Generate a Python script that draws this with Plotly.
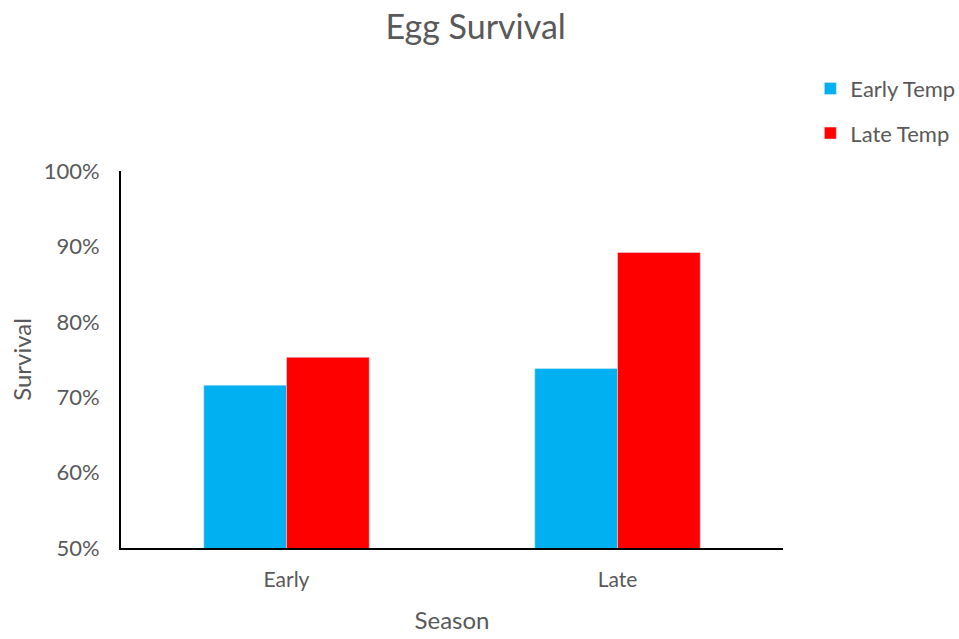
import plotly.graph_objects as go

seasons = ["Early", "Late"]
early_temp = [0.716, 0.738]
late_temp = [0.753, 0.892]
y_ticks = [0.5, 0.6, 0.7, 0.8, 0.9, 1.0]
y_tick_labels = ["50%", "60%", "70%", "80%", "90%", "100%"]

FONT = "Lato, Open Sans, sans-serif"
GRAY = "#595959"

fig = go.Figure()
fig.add_trace(go.Bar(name="Early Temp", x=seasons, y=early_temp, marker_color="#00B0F0",
                     legendgroup="early"))
fig.add_trace(go.Bar(name="Late Temp", x=seasons, y=late_temp, marker_color="#FF0000",
                     legendgroup="late"))

fig.update_layout(
    width=959, height=639,
    margin=dict(l=121, r=176, t=171, b=91),
    paper_bgcolor="white", plot_bgcolor="white",
    barmode="group", bargap=0.5, bargroupgap=0,
    font=dict(family=FONT, color=GRAY, size=22),
    title=dict(text="Egg Survival", x=0.496, xanchor="center", y=0.958, yanchor="middle",
               font=dict(size=34, color=GRAY, family=FONT)),
    legend=dict(xref="container", yref="container", x=0.845, xanchor="left",
                y=0.826, yanchor="middle", traceorder="grouped",
                font=dict(size=22, color=GRAY, family=FONT),
                itemwidth=30, tracegroupgap=13, bgcolor="rgba(0,0,0,0)"),
    showlegend=True,
)
fig.update_xaxes(
    showline=True, linecolor="black", linewidth=2, showgrid=False, automargin=False,
    ticks="", tickfont=dict(size=21, color=GRAY), ticklabelstandoff=12,
    title=dict(text="Season", font=dict(size=24, color=GRAY), standoff=22),
)
fig.update_yaxes(
    range=[0.5, 1.0], tickvals=y_ticks, ticktext=y_tick_labels, automargin=False,
    showline=True, linecolor="black", linewidth=2, showgrid=False, zeroline=False,
    ticks="", tickfont=dict(size=22, color=GRAY), ticklabelstandoff=15,
    title=dict(text="Survival", font=dict(size=24, color=GRAY), standoff=5),
)

fig.write_html("out.html")
